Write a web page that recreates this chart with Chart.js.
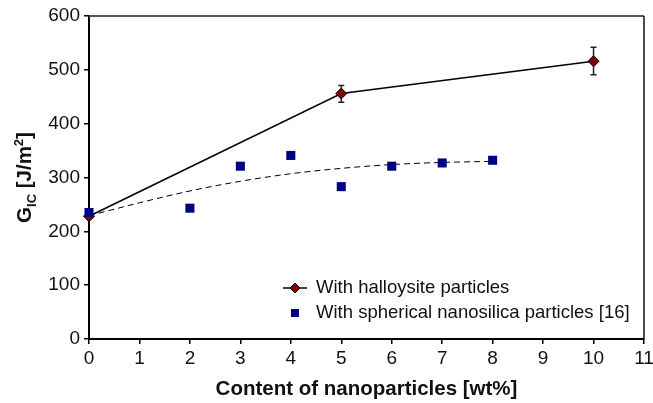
<!DOCTYPE html>
<html>
<head>
<meta charset="utf-8">
<script src="https://cdn.jsdelivr.net/npm/chart.js@4/dist/chart.umd.min.js"></script>
<style>
  html, body { margin: 0; padding: 0; background: #fff; }
  #wrap { position: relative; width: 653px; height: 403px; }
</style>
</head>
<body>
<div id="wrap"><canvas id="chart" width="653" height="403"></canvas></div>
<script>
// Halloysite-modified epoxy (with scatter)
const halloContent = [0, 5, 10];
const halloGic = [228, 456, 516];
const halloErrLow = [null, 440, 491];
const halloErrHigh = [null, 471, 542];

// Spherical nanosilica, ref. [16]
const silicaContent = [0, 2, 3, 4, 5, 6, 7, 8];
const silicaGic = [235, 243, 321, 341, 283, 321, 327, 332];

// Trendline through the nanosilica results
const trendContent = [0, 1, 2, 3, 4, 5, 6, 7, 8];
const trendGic = [229, 253, 275, 293, 307, 317, 324, 328, 330];

const xMin = 0, xMax = 11, xStep = 1;
const yMin = 0, yMax = 600, yStep = 100;

const legendLabels = ['With halloysite particles', 'With spherical nanosilica particles [16]'];
const xTitle = 'Content of nanoparticles [wt%]';

const FONT = '"Liberation Sans", Arial, sans-serif';
const HALLO_FILL = '#800000';
const SILICA_FILL = '#000080';

const toPoints = (xs, ys) => xs.map((x, i) => ({ x, y: ys[i] }));

function diamond(ctx, x, y, r) {
    ctx.beginPath();
    ctx.moveTo(x, y - r);
    ctx.lineTo(x + r, y);
    ctx.lineTo(x, y + r);
    ctx.lineTo(x - r, y);
    ctx.closePath();
    ctx.fillStyle = HALLO_FILL;
    ctx.fill();
    ctx.lineWidth = 1;
    ctx.strokeStyle = '#000';
    ctx.stroke();
}

// top/right frame plus error bars, under the marks
const framePlugin = {
    id: 'frame',
    beforeDatasetsDraw(chart) {
        const { ctx, chartArea: a, scales } = chart;
        ctx.save();
        ctx.strokeStyle = '#555';
        ctx.lineWidth = 2;
        ctx.beginPath();
        ctx.moveTo(a.left, a.top);
        ctx.lineTo(a.right, a.top);
        ctx.stroke();
        ctx.strokeStyle = '#111';
        ctx.lineWidth = 1.5;
        ctx.beginPath();
        ctx.moveTo(a.right, a.top);
        ctx.lineTo(a.right, a.bottom);
        ctx.stroke();

        ctx.strokeStyle = '#222';
        ctx.lineWidth = 1.5;
        halloContent.forEach((c, i) => {
            if (halloErrLow[i] == null) return;
            const x = scales.x.getPixelForValue(c);
            const y1 = scales.y.getPixelForValue(halloErrLow[i]);
            const y2 = scales.y.getPixelForValue(halloErrHigh[i]);
            ctx.beginPath();
            ctx.moveTo(x, y1); ctx.lineTo(x, y2);
            ctx.moveTo(x - 3, y1); ctx.lineTo(x + 3, y1);
            ctx.moveTo(x - 3, y2); ctx.lineTo(x + 3, y2);
            ctx.stroke();
        });
        ctx.restore();
    },
    afterDraw(chart) {
        const { ctx, chartArea: a } = chart;
        ctx.save();
        ctx.fillStyle = '#111';

        // x axis title
        ctx.font = 'bold 20.5px ' + FONT;
        ctx.textAlign = 'center';
        ctx.textBaseline = 'alphabetic';
        ctx.fillText(xTitle, (a.left + a.right) / 2, 395);

        // y axis title with subscript / superscript
        const big = 'bold 20.5px ' + FONT;
        const small = 'bold 13px ' + FONT;
        const parts = [['G', big, 0], ['IC', small, 5], [' [J/m', big, 0], ['2', small, -8], [']', big, 0]];
        let total = 0;
        parts.forEach(p => { ctx.font = p[1]; total += ctx.measureText(p[0]).width; });
        ctx.translate(31, (a.top + a.bottom) / 2);
        ctx.rotate(-Math.PI / 2);
        ctx.textAlign = 'left';
        let cx = -total / 2;
        parts.forEach(p => {
            ctx.font = p[1];
            ctx.fillText(p[0], cx, p[2]);
            cx += ctx.measureText(p[0]).width;
        });
        ctx.restore();

        // legend
        ctx.save();
        ctx.strokeStyle = '#000';
        ctx.lineWidth = 1.5;
        ctx.beginPath();
        ctx.moveTo(283, 288); ctx.lineTo(307, 288);
        ctx.stroke();
        diamond(ctx, 295, 288, 5);
        ctx.fillStyle = SILICA_FILL;
        ctx.fillRect(291, 309, 8, 8);
        ctx.fillStyle = '#111';
        ctx.font = '18.5px ' + FONT;
        ctx.textAlign = 'left';
        ctx.textBaseline = 'middle';
        ctx.fillText(legendLabels[0], 316, 288);
        ctx.fillText(legendLabels[1], 316, 313);
        ctx.restore();
    }
};

new Chart(document.getElementById('chart'), {
    type: 'scatter',
    data: {
        datasets: [
            {
                label: legendLabels[0],
                type: 'line',
                data: toPoints(halloContent, halloGic),
                borderColor: '#000',
                borderWidth: 1.5,
                pointStyle: 'rectRot',
                pointRadius: 5.5,
                pointBackgroundColor: HALLO_FILL,
                pointBorderColor: '#000',
                pointBorderWidth: 1,
                tension: 0,
                clip: false,
                order: 2
            },
            {
                label: legendLabels[1],
                data: toPoints(silicaContent, silicaGic),
                pointStyle: 'rect',
                pointRadius: 6.4,
                pointBackgroundColor: SILICA_FILL,
                pointBorderColor: SILICA_FILL,
                pointBorderWidth: 0,
                clip: false,
                order: 1
            },
            {
                label: 'trend',
                type: 'line',
                data: toPoints(trendContent, trendGic),
                borderColor: '#000',
                borderWidth: 1,
                borderDash: [6, 4],
                pointRadius: 0,
                cubicInterpolationMode: 'monotone',
                order: 3
            }
        ]
    },
    options: {
        responsive: false,
        animation: false,
        devicePixelRatio: 1,
        layout: { padding: { top: 16, right: 9, left: 0, bottom: 0 } },
        plugins: { legend: { display: false }, tooltip: { enabled: false } },
        scales: {
            x: {
                type: 'linear',
                min: xMin, max: xMax,
                afterFit: s => { s.height = 64; s.paddingRight = 0; },
                ticks: { stepSize: xStep, padding: 3, color: '#111', font: { size: 19, family: FONT } },
                grid: { drawOnChartArea: false, tickLength: 5, color: '#000', lineWidth: 1.5 },
                border: { color: '#000', width: 2 }
            },
            y: {
                min: yMin, max: yMax,
                afterFit: s => { s.width = 89; },
                ticks: { stepSize: yStep, padding: 4, color: '#111', font: { size: 19, family: FONT } },
                grid: { drawOnChartArea: false, tickLength: 5, color: '#000', lineWidth: 1.5 },
                border: { color: '#000', width: 2 }
            }
        }
    },
    plugins: [framePlugin]
});
</script>
</body>
</html>
